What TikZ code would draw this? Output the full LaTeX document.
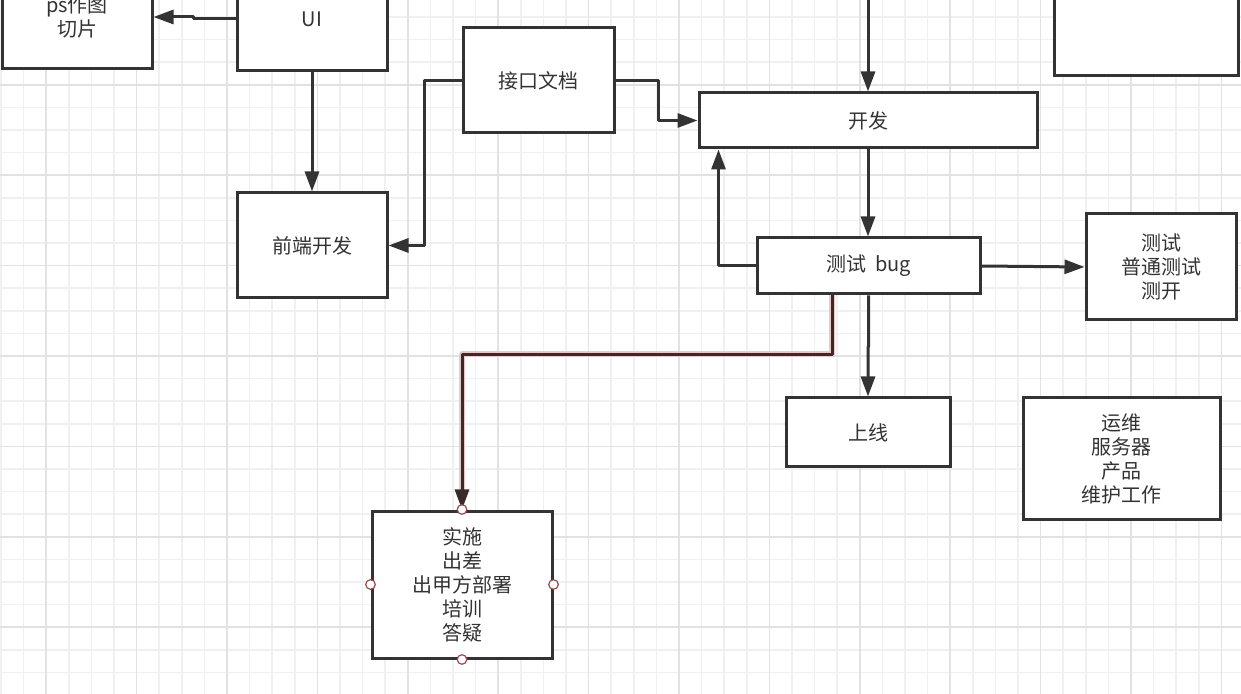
\documentclass[tikz,border=0pt]{standalone}
\usepackage{fontspec}
\setmainfont{Noto Sans CJK SC}
\usetikzlibrary{arrows.meta,calc}
\definecolor{ink}{HTML}{333333}
\definecolor{gridminor}{HTML}{F0F0F0}
\definecolor{gridmajor}{HTML}{E2E2E2}
\definecolor{selline}{HTML}{3A2A2A}
\definecolor{selglow}{HTML}{EBC8C8}
\definecolor{handlec}{HTML}{9A4A4A}
\begin{document}
\begin{tikzpicture}[x=0.5pt,y=-0.5pt,
  box/.style={draw=ink, line width=1.5pt, fill=white, text=ink, align=center, inner sep=0pt,
              font=\fontsize{10pt}{12pt}\selectfont},
  conn/.style={draw=ink, line width=1.5pt, line join=round, -{Triangle[length=10pt,width=7pt]}},
  selconn/.style={draw=selline, line width=1.5pt, line join=round, -{Triangle[length=10pt,width=7pt]}},
  glow/.style={draw=selglow, line width=3pt, line join=round},
  handle/.style={draw=handlec, line width=0.6pt, fill=white},
  gmin/.style={draw=gridminor, line width=0.8pt},
  gmaj/.style={draw=gridmajor, line width=0.8pt},
]
\useasboundingbox (0,0) rectangle (1241,694);
\begin{scope}
\clip (0,0) rectangle (1241,694);
\fill[white] (0,0) rectangle (1241,694);
% grid
\foreach \i in {0,...,55} \draw[gmin] ({1+22.6*\i},0) -- ({1+22.6*\i},694);
\foreach \j in {0,...,32} \draw[gmin] (0,{-5.6+22.6*\j}) -- (1241,{-5.6+22.6*\j});
\foreach \i in {-1,...,13} \draw[gmaj] ({46.2+90.4*\i},0) -- ({46.2+90.4*\i},694);
\foreach \j in {0,...,8} \draw[gmaj] (0,{-5.6+90.4*\j}) -- (1241,{-5.6+90.4*\j});

% boxes
\node[box, minimum width=75pt, minimum height=52pt] (ps) at (77,17) {ps作图\\切片};
\node[box, minimum width=75pt, minimum height=52pt] (ui) at (312,19) {UI};
\node[box, minimum width=75pt, minimum height=52.5pt] (qd) at (312,245.5) {前端开发};
\node[box, minimum width=75.5pt, minimum height=52.5pt] (jk) at (538.5,80.5) {接口文档};
\node[box, minimum width=169pt, minimum height=27.5pt] (kf) at (868,120.5) {开发};
\node[box, minimum width=111.5pt, minimum height=28pt] (cs) at (868.5,266) {测试\hspace{0.45em}bug};
\node[box, minimum width=75pt, minimum height=53pt] (cs3) at (1161,267) {测试\\普通测试\\测开};
\node[box, minimum width=82pt, minimum height=34.5pt] (sx) at (868,432.5) {上线};
\node[box, minimum width=90pt, minimum height=73.5pt] (ss) at (462,584.5) {实施\\出差\\出甲方部署\\培训\\答疑};
\node[box, minimum width=98.5pt, minimum height=60.5pt] (yw) at (1121.5,458.5) {运维\\服务器\\产品\\维护工作};
\node[box, minimum width=92pt, minimum height=53pt] (tr) at (1146,23) {};
\coordinate (topc) at (868,-10);

% connectors
\draw[conn] (ui.west) -- ++(-42,0) -- ++(0,-2) -- (ps.east);
\draw[conn] (ui.south) -- (qd.north);
\draw[conn] (jk.west) -- ++(-37,0) |- (qd.east);
\draw[conn] (jk.east) -- ++(43,0) |- (kf.west);
\draw[conn] (topc) -- (kf.north);
\draw[conn] (kf.south) -- (kf.south |- cs.north);
\draw[conn] (cs.west) -| ([xshift=10.5pt]kf.south west);
\draw[conn] (cs.east) -- (cs3.west);
\draw[conn] (cs.south) -- ++(0,51) -- ++(-0.5,1) -- (sx.north);
\draw[glow] ([xshift=-18.25pt]cs.south) -- ++(0,59) -| ([yshift=9pt]ss.north);
\draw[selconn] ([xshift=-18.25pt]cs.south) -- ++(0,59) -| (ss.north);

% selection handles
\foreach \a in {north,south,east,west} \draw[handle] (ss.\a) circle[radius=2.4pt];
\end{scope}
\end{tikzpicture}
\end{document}
